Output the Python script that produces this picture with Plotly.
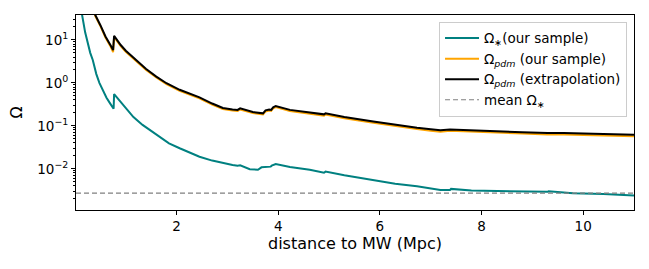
import plotly.graph_objects as go

# ---- data ----
dist_star = [0.10, 0.14, 0.20, 0.25, 0.30, 0.35, 0.42, 0.48, 0.55, 0.62, 0.70, 0.76,
             0.77, 0.85, 1.00, 1.15, 1.33, 1.50, 1.70, 1.85, 2.06, 2.26, 2.45, 2.70,
             2.91, 3.10, 3.20, 3.25, 3.44, 3.60, 3.67, 3.75, 3.80, 3.85, 3.87, 3.95,
             4.23, 4.62, 4.90, 4.93, 5.30, 5.87, 6.30, 6.73, 7.19, 7.38, 7.40, 7.80,
             8.30, 8.80, 9.30, 9.32, 9.80, 10.4, 11.0]
omega_star = [60, 38, 15, 8.4, 5.0, 3.4, 1.6, 1.0, 0.65, 0.45, 0.32, 0.25,
              0.55, 0.42, 0.26, 0.16, 0.105, 0.075, 0.050, 0.039, 0.030, 0.024, 0.019, 0.0155,
              0.0135, 0.0122, 0.0118, 0.0120, 0.0098, 0.0095, 0.0108, 0.0110, 0.0114, 0.0112, 0.0118, 0.0129,
              0.0110, 0.0095, 0.0081, 0.0086, 0.0071, 0.0055, 0.0045, 0.0039, 0.0032, 0.0032, 0.0034, 0.0031,
              0.0030, 0.0029, 0.0029, 0.0030, 0.0027, 0.0026, 0.0024]

dist_pdm = [0.30, 0.40, 0.50, 0.60, 0.70, 0.75, 0.77, 0.90, 1.00, 1.20, 1.40, 1.60,
            1.80, 2.06, 2.26, 2.45, 2.70, 2.91, 3.10, 3.20, 3.25, 3.30, 3.50, 3.70,
            3.75, 3.82, 3.86, 3.90, 3.95, 4.23, 4.62, 4.90, 4.93, 5.30, 5.87, 6.30,
            6.73, 7.00, 7.19, 7.38, 7.80, 8.30, 8.80, 9.30, 9.62, 10.2, 11.0]
omega_pdm_sample = [76, 36, 21, 11.4, 7.0, 5.2, 11.8, 7.2, 5.3, 3.2, 2.0, 1.33,
                    0.93, 0.65, 0.54, 0.435, 0.31, 0.245, 0.226, 0.222, 0.240, 0.231, 0.198, 0.183,
                    0.216, 0.226, 0.222, 0.254, 0.273, 0.221, 0.192, 0.173, 0.183, 0.150, 0.118, 0.098,
                    0.084, 0.077, 0.073, 0.077, 0.073, 0.069, 0.066, 0.063, 0.063, 0.060, 0.057]
omega_pdm_extrap = [80, 38, 22, 12, 7.5, 5.8, 12.4, 7.6, 5.6, 3.4, 2.1, 1.4,
                    0.98, 0.69, 0.57, 0.46, 0.33, 0.26, 0.24, 0.235, 0.255, 0.245, 0.21, 0.195,
                    0.23, 0.24, 0.235, 0.27, 0.29, 0.235, 0.205, 0.185, 0.195, 0.16, 0.126, 0.105,
                    0.090, 0.083, 0.079, 0.082, 0.078, 0.074, 0.071, 0.068, 0.068, 0.065, 0.062]

mean_omega_star = 0.0027

x_range = [0.02, 11.0]
y_tickvals = [0.01, 0.1, 1, 10]
y_ticktext = ["10<sup>−2</sup>", "10<sup>−1</sup>", "10<sup>0</sup>", "10<sup>1</sup>"]
x_tickvals = [2, 4, 6, 8, 10]

FONT = "DejaVu Sans"
FS = 13.5

fig = go.Figure()
fig.add_trace(go.Scatter(x=dist_star, y=omega_star, mode="lines",
                         line=dict(color="#008080", width=2),
                         name="Ω<sub>∗</sub>(our sample)"))
fig.add_trace(go.Scatter(x=dist_pdm, y=omega_pdm_sample, mode="lines",
                         line=dict(color="#FFA500", width=2),
                         name="Ω<sub><i>pdm</i></sub> (our sample)"))
fig.add_trace(go.Scatter(x=dist_pdm, y=omega_pdm_extrap, mode="lines",
                         line=dict(color="black", width=2),
                         name="Ω<sub><i>pdm</i></sub> (extrapolation)"))
fig.add_trace(go.Scatter(x=x_range, y=[mean_omega_star, mean_omega_star], mode="lines",
                         line=dict(color="gray", width=1.2, dash="5px,3px"),
                         name="mean Ω<sub>∗</sub>"))

minor_vals = [m * 10 ** e for e in range(-3, 2) for m in range(2, 10)]

fig.update_layout(
    width=649, height=269,
    margin=dict(l=76, r=15, t=15, b=59, autoexpand=False),
    plot_bgcolor="white", paper_bgcolor="white",
    font=dict(family=FONT, size=FS, color="black"),
    showlegend=True,
    legend=dict(x=0.9875, xanchor="right", y=0.965, yanchor="top",
                bgcolor="rgba(255,255,255,0.8)", bordercolor="#cccccc", borderwidth=1,
                font=dict(family=FONT, size=FS), tracegroupgap=0,
                itemwidth=34),
)
fig.update_xaxes(range=x_range, tickvals=x_tickvals, ticks="outside", ticklen=4,
                 tickcolor="black", showline=True, linecolor="black", linewidth=1,
                 mirror=True, showgrid=False, zeroline=False, automargin=False,
                 title=dict(text="distance to MW (Mpc)", standoff=4),
                 tickfont=dict(size=FS))
fig.update_yaxes(type="log", range=[-2.96, 1.58], tickvals=y_tickvals, ticktext=y_ticktext,
                 ticks="outside", ticklen=4, tickcolor="black",
                 minor=dict(ticks="outside", ticklen=2, tickcolor="black", tickvals=minor_vals),
                 showline=True, linecolor="black", linewidth=1, mirror=True,
                 showgrid=False, zeroline=False, automargin=False,
                 title=dict(text="Ω", standoff=10), tickfont=dict(size=FS))

fig.write_html("out.html", config={"displayModeBar": False},
               post_script="document.body.style.margin='0px';document.body.style.overflow='hidden';")
